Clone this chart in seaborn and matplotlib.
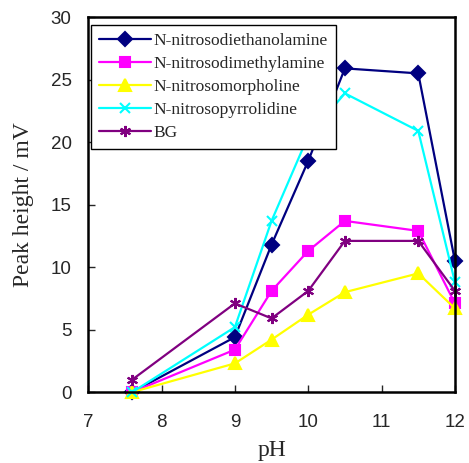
import pandas as pd
import matplotlib
matplotlib.use('Agg')
import matplotlib.pyplot as plt
import seaborn as sns

# Dados
ph = [7.6, 9, 9.5, 10, 10.5, 11.5, 12]
dietanolamina = [0.0, 4.4, 11.8, 18.5, 25.9, 25.5, 10.5]
dimetilamina = [0.0, 3.4, 8.1, 11.3, 13.7, 12.9, 7.1]
morfolina = [0.0, 2.3, 4.2, 6.2, 8.0, 9.5, 6.7]
pirrolidina = [0.0, 5.2, 13.7, 20.5, 23.9, 20.9, 8.8]
bg = [1.0, 7.1, 5.9, 8.1, 12.1, 12.1, 8.1]

series = ['N-nitrosodiethanolamine', 'N-nitrosodimethylamine', 'N-nitrosomorpholine',
          'N-nitrosopyrrolidine', 'BG']
valores = [dietanolamina, dimetilamina, morfolina, pirrolidina, bg]
cores = ['#000080', '#ff00ff', '#ffff00', '#00ffff', '#800080']
marcadores = ['D', 's', '^', 'x', (6, 2, 0)]
tamanhos = [7, 7, 8, 7, 8]

sns.set_style('white')
plt.rcParams['font.family'] = ['Liberation Sans', 'DejaVu Sans']

fig = plt.figure(figsize=(4.69, 4.63), dpi=100)
ax = fig.add_axes([0.188, 0.153, 0.782, 0.81])

# Desenhar cada serie separadamente
for nome, vals, cor, m, t in zip(series, valores, cores, marcadores, tamanhos):
    df = pd.DataFrame({'pH': ph, 'valor': vals})
    sns.lineplot(data=df, x='pH', y='valor', color=cor, marker=m,
                 linewidth=1.6, markersize=t, markeredgewidth=1.5,
                 markeredgecolor=cor, markerfacecolor=cor,
                 label=nome, ax=ax, clip_on=False)

ax.set_xlim(7, 12)
ax.set_ylim(0, 30)
ax.set_xticks([7, 8, 9, 10, 11, 12])
ax.set_yticks([0, 5, 10, 15, 20, 25, 30])
ax.tick_params(direction='in', length=5, width=1, labelsize=13.5,
               left=True, bottom=True, top=False, right=False)
ax.tick_params(axis='x', pad=16)
ax.tick_params(axis='y', pad=12)
for s in ax.spines.values():
    s.set_linewidth(1.8)
    s.set_color('black')

ax.set_xlabel('pH', family='Liberation Serif', fontsize=17, labelpad=6)
ax.set_ylabel('Peak height / mV', family='Liberation Serif', fontsize=17, labelpad=12)

leg = ax.legend(loc='upper left', bbox_to_anchor=(0.008, 0.98), frameon=True,
                fancybox=False, edgecolor='black', framealpha=1,
                prop={'family': 'Liberation Serif', 'size': 12.5},
                handlelength=3.0, handletextpad=0.15, labelspacing=0.4,
                borderpad=0.45, borderaxespad=0)
leg.get_frame().set_linewidth(1.0)

fig.savefig('out.png', dpi=100)
